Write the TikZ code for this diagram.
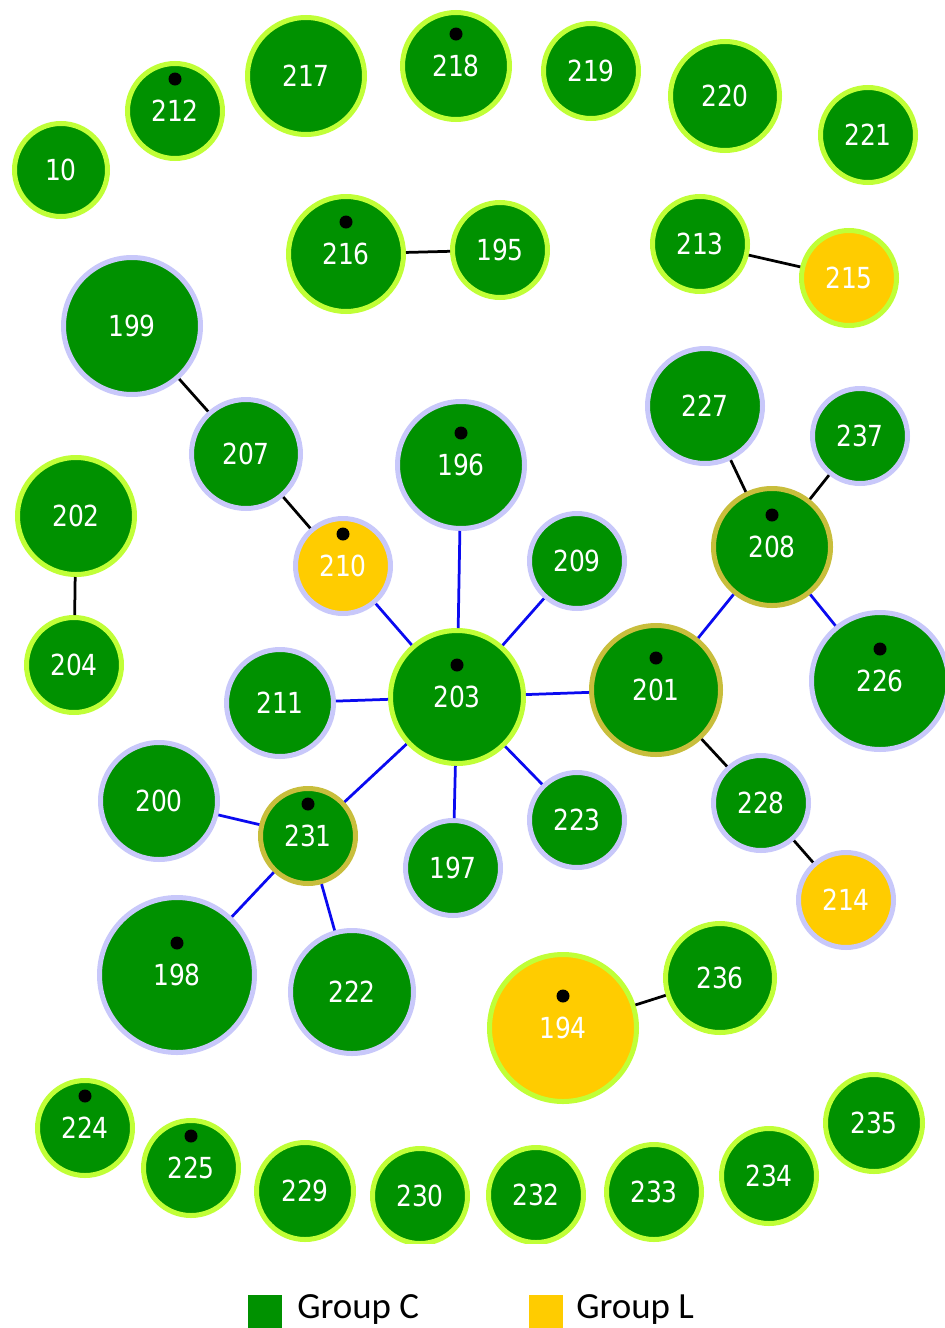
\documentclass[tikz,border=0pt]{standalone}
\usepackage{fontspec}
\setmainfont{Carlito}
\newfontfamily\numfont{DejaVu Sans}[FakeStretch=0.86]
\usetikzlibrary{positioning}
\definecolor{grpc}{RGB}{0,145,0}
\definecolor{grpl}{RGB}{255,204,0}
\definecolor{limeline}{RGB}{192,255,55}
\definecolor{lavline}{RGB}{200,200,250}
\definecolor{oliveline}{RGB}{200,190,60}
\definecolor{linkblue}{RGB}{10,10,240}

\begin{document}
\begin{tikzpicture}[
        x=0.02cm, y=-0.02cm,
        every node/.style={font=\numfont\fontsize{16.5}{18}\selectfont},
        cnode/.style={circle, fill=grpc, text=white, line width=0.1cm, inner sep=0pt},
        lnode/.style={cnode, fill=grpl},
        lime/.style={draw=limeline},
        lav/.style={draw=lavline},
        olv/.style={draw=oliveline},
        sz/.style={minimum size={2*#1*0.02cm-0.1cm}},
        seed/.style={path picture={\fill[black] (path picture bounding box.center) ++(0,0.64cm) circle[radius=0.13cm];}},
        link/.style={linkblue, line width=0.055cm},
        tie/.style={black, line width=0.055cm},
        keybox/.style={rectangle, minimum size=0.68cm, inner sep=0pt},
        keytext/.style={font=\fontsize{21}{24}\selectfont, inner sep=0pt, anchor=base west}
    ]
    \useasboundingbox (0,0) rectangle (945,1328);

    \begin{scope}
        \clip (0,0) rectangle (945,1243);
        % singletons and pairs on top
        \node[cnode, lime, sz=49] (n10) at (61,170) {10};
        \node[cnode, lime, sz=50, seed] (n212) at (175,111) {212};
        \node[cnode, lime, sz=61] (n217) at (306,76) {217};
        \node[cnode, lime, sz=56, seed] (n218) at (456,66) {218};
        \node[cnode, lime, sz=50] (n219) at (591,71) {219};
        \node[cnode, lime, sz=57] (n220) at (725,96) {220};
        \node[cnode, lime, sz=50] (n221) at (868,135) {221};
        \node[cnode, lime, sz=60, seed] (n216) at (346,254) {216};
        \node[cnode, lime, sz=50] (n195) at (500,250) {195};
        \node[cnode, lime, sz=50] (n213) at (700,244) {213};
        \node[lnode, lime, sz=50] (n215) at (849,278) {215};
        \node[cnode, lime, sz=61] (n202) at (76,516) {202};
        \node[cnode, lime, sz=50] (n204) at (74,665) {204};

        % main cluster
        \node[cnode, lav, sz=71] (n199) at (132,326) {199};
        \node[cnode, lav, sz=57] (n207) at (246,454) {207};
        \node[lnode, lav, sz=50, seed] (n210) at (343,566) {210};
        \node[cnode, lav, sz=66, seed] (n196) at (461,465) {196};
        \node[cnode, lav, sz=56] (n211) at (280,703) {211};
        \node[cnode, lime, sz=69, seed] (n203) at (457,697) {203};
        \node[cnode, lav, sz=60] (n227) at (705,406) {227};
        \node[cnode, lav, sz=50] (n237) at (860,436) {237};
        \node[cnode, olv, sz=61, seed] (n208) at (772,547) {208};
        \node[cnode, lav, sz=50] (n209) at (577,561) {209};
        \node[cnode, olv, sz=67, seed] (n201) at (656,690) {201};
        \node[cnode, lav, sz=71, seed] (n226) at (880,681) {226};
        \node[cnode, lav, sz=61] (n200) at (159,801) {200};
        \node[cnode, olv, sz=50, seed] (n231) at (308,836) {231};
        \node[cnode, lav, sz=80, seed] (n198) at (177,975) {198};
        \node[cnode, lav, sz=64] (n222) at (352,992) {222};
        \node[cnode, lav, sz=50] (n197) at (453,868) {197};
        \node[cnode, lav, sz=50] (n223) at (577,820) {223};
        \node[cnode, lav, sz=50] (n228) at (761,803) {228};
        \node[lnode, lav, sz=50] (n214) at (846,900) {214};
        \node[cnode, lime, sz=57] (n236) at (720,978) {236};
        \node[lnode, lime, sz=76, seed] (n194) at (563,1028) {194};

        % bottom arc
        \node[cnode, lime, sz=50, seed] (n224) at (85,1128) {224};
        \node[cnode, lime, sz=50, seed] (n225) at (191,1168) {225};
        \node[cnode, lime, sz=51] (n229) at (305,1191) {229};
        \node[cnode, lime, sz=50] (n230) at (420,1196) {230};
        \node[cnode, lime, sz=50] (n232) at (536,1195) {232};
        \node[cnode, lime, sz=50] (n233) at (654,1192) {233};
        \node[cnode, lime, sz=50] (n234) at (769,1176) {234};
        \node[cnode, lime, sz=51] (n235) at (874,1123) {235};

        \draw[tie] (n216) -- (n195);
        \draw[tie] (n213) -- (n215);
        \draw[tie] (n202) -- (n204);
        \draw[tie] (n199) -- (n207);
        \draw[tie] (n207) -- (n210);
        \draw[tie] (n227) -- (n208);
        \draw[tie] (n237) -- (n208);
        \draw[tie] (n201) -- (n228);
        \draw[tie] (n228) -- (n214);
        \draw[tie] (n194) -- (n236);

        \draw[link] (n203) -- (n210);
        \draw[link] (n203) -- (n196);
        \draw[link] (n203) -- (n209);
        \draw[link] (n203) -- (n201);
        \draw[link] (n203) -- (n211);
        \draw[link] (n203) -- (n231);
        \draw[link] (n203) -- (n197);
        \draw[link] (n203) -- (n223);
        \draw[link] (n231) -- (n200);
        \draw[link] (n231) -- (n198);
        \draw[link] (n231) -- (n222);
        \draw[link] (n201) -- (n208);
        \draw[link] (n208) -- (n226);
    \end{scope}

    % legend
    \node[keybox, fill=grpc] (keyc) at (265,1312) {};
    \node[keytext] (keyctext) at (297,1318) {Group C};
    \node[keybox, fill=grpl] (keyl) at (546,1312) {};
    \node[keytext] (keyltext) at (576,1318) {Group L};
\end{tikzpicture}
\end{document}
